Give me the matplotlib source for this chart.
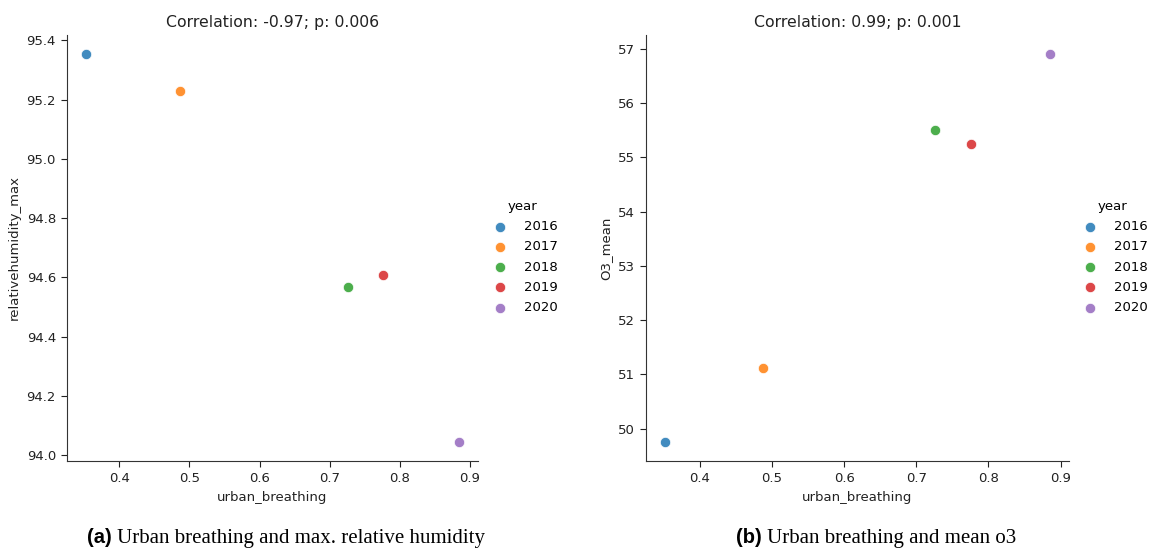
import numpy as np
import matplotlib
matplotlib.use('Agg')
from matplotlib import pyplot as plt

# data
years = ['2016', '2017', '2018', '2019', '2020']
urban_breathing = [0.352, 0.487, 0.726, 0.776, 0.885]
rh_max = [95.353, 95.228, 94.568, 94.608, 94.045]
o3_mean = [49.76, 51.11, 55.51, 55.25, 56.90]
titles = ['Correlation: -0.97; p: 0.006', 'Correlation: 0.99; p: 0.001']
ylabels = ['relativehumidity_max', 'O3_mean']
captions = [('(a)', 'Urban breathing and max. relative humidity'),
            ('(b)', 'Urban breathing and mean o3')]

colors = plt.get_cmap('tab10').colors[:5]
W, H = 1149, 548
fig = plt.figure(figsize=(W / 100, H / 100), dpi=100)

def px(x0, y0, x1, y1):
    return (x0 / W, 1 - y1 / H, (x1 - x0) / W, (y1 - y0) / H)

axes = [fig.add_axes(px(67, 35, 478, 461)), fig.add_axes(px(646, 35, 1069, 461))]
legend_x = [475, 1065]
cap_x = [112, 762]

for i, (ax, yv) in enumerate(zip(axes, [rh_max, o3_mean])):
    for j, yr in enumerate(years):
        ax.scatter(urban_breathing[j], yv[j], s=55, color=colors[j], alpha=0.85,
                   edgecolor='white', linewidth=0.6, label=yr)
    ax.margins(0.05)
    ax.spines['top'].set_visible(False)
    ax.spines['right'].set_visible(False)
    for s in ['left', 'bottom']:
        ax.spines[s].set_color('#333333')
    ax.set_xticks([0.4, 0.5, 0.6, 0.7, 0.8, 0.9])
    ax.tick_params(labelsize=9.5, colors='#222222', length=4.5)
    ax.set_title(titles[i], fontsize=11.3, color='#222222')
    ax.set_xlabel('urban_breathing', fontsize=9.5, color='#222222')
    ax.set_ylabel(ylabels[i], fontsize=9.5, color='#222222')
    leg = ax.legend(title='year', loc='center left', frameon=False,
                    bbox_to_anchor=(legend_x[i] / W, 1 - 257 / H),
                    bbox_transform=fig.transFigure, fontsize=9.5,
                    title_fontsize=9.5, handletextpad=0.8, labelspacing=0.55)
    fig.text(cap_x[i] / W, 1 - 543 / H, captions[i][0], ha='right', va='baseline',
             fontsize=14.5, fontweight='bold', family='Liberation Sans')
    fig.text((cap_x[i] + 5) / W, 1 - 543 / H, captions[i][1], ha='left', va='baseline',
             fontsize=15, family='Liberation Serif')

axes[0].set_yticks([94.0, 94.2, 94.4, 94.6, 94.8, 95.0, 95.2, 95.4])
axes[1].set_yticks([50, 51, 52, 53, 54, 55, 56, 57])

fig.savefig('out.png', dpi=100)
